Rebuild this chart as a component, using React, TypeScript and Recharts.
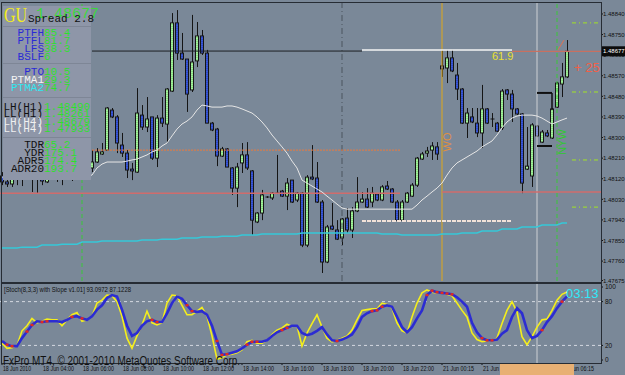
import React from "react";
import { ComposedChart, Bar, Line, XAxis, YAxis, ReferenceLine } from "recharts";

// GBPUSD M15, 18-21 Jun 2010 (index = candle number)
const openP = [
  1.48132, 1.48106, 1.48097, 1.48123, 1.4814, 1.4818, 1.48193, 1.48219, 1.48167, 1.48106,
  1.48167, 1.48193, 1.48158, 1.48189, 1.48224, 1.4821, 1.48237, 1.4818, 1.48167, 1.48193,
  1.48228, 1.48245, 1.4842, 1.4839, 1.48267, 1.48232, 1.48162, 1.48149, 1.48398, 1.48346,
  1.4839, 1.4821, 1.48385, 1.48359, 1.48503, 1.48801, 1.48669, 1.48643, 1.48508, 1.48635,
  1.48744, 1.48669, 1.48363, 1.48337, 1.48219, 1.4825, 1.48167, 1.48079, 1.48189, 1.48224,
  1.48154, 1.47931, 1.4797, 1.4804, 1.48036, 1.48057, 1.48066, 1.48044, 1.48114, 1.48027,
  1.48057, 1.4783, 1.48127, 1.48123, 1.48018, 1.47756, 1.47913, 1.47896, 1.47861, 1.47948,
  1.47896, 1.47979, 1.48018, 1.48031, 1.48018, 1.48053, 1.48027, 1.48088, 1.48075, 1.48018,
  1.47939, 1.48018, 1.48044, 1.48092, 1.48206, 1.48232, 1.48245, 1.48259, 1.48613, 1.48604,
  1.48648, 1.48573, 1.48512, 1.48363, 1.4839, 1.48363, 1.4832, 1.48425, 1.48381, 1.48363,
  1.48342, 1.48508, 1.4849, 1.48425, 1.48403, 1.48162, 1.48132, 1.4835, 1.4828, 1.4832,
  1.48298, 1.48433, 1.48534, 1.48565,
];
const highP = [
  1.48149, 1.48123, 1.48132, 1.48149, 1.48193, 1.4821, 1.48245, 1.48245, 1.48202, 1.4818,
  1.4821, 1.48202, 1.48202, 1.48245, 1.48254, 1.48245, 1.48245, 1.4821, 1.48245, 1.48254,
  1.48276, 1.48433, 1.48429, 1.48398, 1.4832, 1.48245, 1.48189, 1.48516, 1.48442, 1.48477,
  1.4839, 1.48398, 1.48477, 1.48516, 1.48844, 1.48857, 1.48757, 1.48643, 1.48836, 1.48805,
  1.4877, 1.48683, 1.48368, 1.48342, 1.48259, 1.48254, 1.48171, 1.48189, 1.48276, 1.4828,
  1.48158, 1.47974, 1.48071, 1.48044, 1.48062, 1.48224, 1.48071, 1.48123, 1.48114, 1.48062,
  1.48062, 1.48136, 1.48267, 1.48193, 1.48027, 1.47918, 1.48014, 1.47939, 1.47948, 1.47992,
  1.47996, 1.48127, 1.48062, 1.48079, 1.48084, 1.48057, 1.48092, 1.4811, 1.48079, 1.48027,
  1.48027, 1.48062, 1.48101, 1.48215, 1.48237, 1.48259, 1.4828, 1.4828, 1.48683, 1.48683,
  1.48683, 1.48626, 1.48516, 1.48429, 1.48429, 1.48429, 1.4853, 1.48429, 1.48407, 1.48368,
  1.48512, 1.48512, 1.48508, 1.48429, 1.48407, 1.48346, 1.48363, 1.48355, 1.48333, 1.48333,
  1.48429, 1.48543, 1.48626, 1.48726,
];
const lowP = [
  1.48092, 1.48084, 1.48084, 1.48092, 1.48088, 1.48158, 1.48062, 1.48057, 1.48092, 1.48101,
  1.48136, 1.48106, 1.48092, 1.48158, 1.4811, 1.4818, 1.48149, 1.48149, 1.48149, 1.48189,
  1.48224, 1.48245, 1.48385, 1.48232, 1.48215, 1.48123, 1.48114, 1.48145, 1.48333, 1.48324,
  1.48202, 1.48171, 1.48346, 1.48276, 1.48499, 1.48639, 1.48639, 1.48412, 1.48499, 1.48608,
  1.48661, 1.48363, 1.48328, 1.48175, 1.48215, 1.48171, 1.48049, 1.47996, 1.48145, 1.48158,
  1.47874, 1.47926, 1.47939, 1.48036, 1.48027, 1.48053, 1.4804, 1.47983, 1.48014, 1.48018,
  1.47821, 1.47821, 1.48114, 1.48014, 1.47708, 1.47751, 1.47896, 1.47852, 1.4783, 1.47883,
  1.47861, 1.47974, 1.48014, 1.47992, 1.47996, 1.48022, 1.48022, 1.48071, 1.48014, 1.47935,
  1.47935, 1.48014, 1.4804, 1.48084, 1.48202, 1.48215, 1.48202, 1.48202, 1.48565, 1.48538,
  1.48586, 1.48464, 1.48359, 1.48298, 1.48363, 1.48302, 1.48254, 1.48359, 1.48346, 1.48324,
  1.48333, 1.48464, 1.48368, 1.48398, 1.48057, 1.48158, 1.48084, 1.48302, 1.48276, 1.48302,
  1.48294, 1.48429, 1.48477, 1.4856,
];
const closeP = [
  1.48106, 1.48097, 1.48123, 1.4814, 1.4818, 1.48193, 1.48219, 1.48202, 1.4811, 1.48167,
  1.48193, 1.48158, 1.48189, 1.48224, 1.4821, 1.48237, 1.4818, 1.48189, 1.48193, 1.48237,
  1.48237, 1.48429, 1.4839, 1.48276, 1.48232, 1.48158, 1.48154, 1.48407, 1.48346, 1.48381,
  1.4821, 1.48385, 1.48363, 1.48512, 1.48801, 1.48669, 1.48643, 1.4849, 1.4863, 1.48744,
  1.48669, 1.48363, 1.48333, 1.48219, 1.4825, 1.48171, 1.48079, 1.48171, 1.48224, 1.48167,
  1.47939, 1.4797, 1.48049, 1.4804, 1.48057, 1.48057, 1.48044, 1.48101, 1.48018, 1.48057,
  1.4783, 1.48127, 1.48119, 1.48018, 1.47756, 1.47909, 1.479, 1.47856, 1.47944, 1.47896,
  1.47979, 1.48018, 1.48031, 1.47996, 1.48057, 1.48027, 1.48084, 1.48075, 1.48018, 1.47939,
  1.48018, 1.48057, 1.48092, 1.4821, 1.48228, 1.48241, 1.48263, 1.48228, 1.486, 1.48648,
  1.48591, 1.48512, 1.48363, 1.48407, 1.48368, 1.4832, 1.48425, 1.48363, 1.48381, 1.48328,
  1.48503, 1.4849, 1.48425, 1.48403, 1.48101, 1.48175, 1.48355, 1.48307, 1.48324, 1.48307,
  1.48425, 1.48538, 1.48565, 1.48677,
];

// moving averages (white = fast, cyan = slow, stepped from H1)
const maFast = [
  1.48127, 1.48127, 1.48127, 1.48127, 1.48127, 1.48127,
  1.48132, 1.48132, 1.48132, 1.48132, 1.48132, 1.48132, 1.48132, 1.48132, 1.48132, 1.48132, 1.48132, 1.48132,
  1.48136, 1.48167, 1.48184, 1.48193, 1.48193, 1.48193, 1.48193, 1.48197, 1.48202, 1.48206,
  1.48215, 1.48224, 1.48237, 1.48245, 1.48263, 1.48276, 1.48307, 1.48337, 1.48359, 1.48372,
  1.4839, 1.4842, 1.48442, 1.48438, 1.48433, 1.48433, 1.48433, 1.48438, 1.48438, 1.48433,
  1.48425, 1.48416, 1.48407, 1.4839, 1.48368, 1.48342, 1.48311, 1.48285, 1.48259, 1.48232,
  1.48197, 1.48167, 1.48114, 1.48101, 1.48088, 1.48075, 1.48062, 1.48044, 1.48027, 1.48009,
  1.47992,
  1.47987, 1.47987, 1.47987, 1.47987, 1.47987, 1.47987, 1.47987, 1.47987, 1.47987, 1.47987, 1.47987, 1.47987, 1.47987, 1.47987,
  1.48005, 1.48027, 1.48044, 1.48062, 1.48079,
  1.48101, 1.48136, 1.48167, 1.48189, 1.48202, 1.48215, 1.48228, 1.48241, 1.48259, 1.48272,
  1.48285, 1.48311, 1.48342, 1.48368, 1.48385, 1.48394, 1.48398, 1.48398, 1.48398, 1.48394,
  1.48385, 1.48372, 1.48359, 1.48368, 1.48377, 1.48385,
];
const maSlow = [
  1.47817, 1.47817, 1.47817, 1.47817, 1.47821, 1.47821, 1.47821, 1.47821,
  1.4783, 1.4783, 1.4783, 1.4783, 1.47834, 1.47834, 1.47834, 1.47834,
  1.47843, 1.47843, 1.47843, 1.47843, 1.47848, 1.47848, 1.47848, 1.47848,
  1.47848, 1.47848, 1.47848, 1.47848, 1.47852, 1.47852, 1.47852, 1.47852,
  1.47856, 1.47856, 1.47856, 1.47856, 1.47861, 1.47861, 1.47861, 1.47861,
  1.47865, 1.47865, 1.47865, 1.47865, 1.47869, 1.47869, 1.47869, 1.47869,
  1.47874, 1.47874, 1.47874, 1.47874, 1.47878, 1.47878, 1.47878, 1.47878,
  1.47878, 1.47878, 1.47878, 1.47878, 1.47883, 1.47883, 1.47883, 1.47883,
  1.47883, 1.47883, 1.47883, 1.47883, 1.47883, 1.47883, 1.47883, 1.47883,
  1.47883, 1.47883, 1.47883, 1.47883, 1.47878, 1.47878, 1.47878, 1.47878,
  1.47874, 1.47874, 1.47874, 1.47874, 1.47874, 1.47874, 1.47874, 1.47874,
  1.47878, 1.47878, 1.47878, 1.47878, 1.47883, 1.47883, 1.47883, 1.47883,
  1.47891, 1.47891, 1.47891, 1.47891, 1.479, 1.479, 1.479, 1.479,
  1.47909, 1.47909, 1.47909, 1.47909, 1.47918, 1.47918, 1.47918, 1.47918,
  1.47926, 1.47926,
];

// Stoch(8,3,3)
const stochK = [
  23, 16, 17, 20, 40, 47, 57, 51, 53, 56, 55, 55, 47, 55, 62, 65, 53, 55, 60, 78,
  82, 89, 88, 80, 60, 30, 16, 33, 48, 67, 51, 48, 51, 78, 89, 88, 75, 62, 62, 67,
  72, 60, 33, 1, 3, 7, 8, 10, 14, 25, 27, 23, 23, 27, 35, 41, 44, 49, 46, 47,
  19, 37, 50, 62, 45, 30, 25, 27, 30, 33, 41, 55, 68, 69, 70, 70, 78, 76, 71, 51,
  40, 37, 59, 78, 92, 96, 93, 92, 92, 90, 88, 78, 68, 59, 37, 28, 25, 26, 27, 30,
  50, 68, 80, 66, 32, 21, 32, 45, 55, 56, 68, 82, 90, 93.0972,
];
const stochD = [
  26, 21, 19, 19, 30, 39, 48, 53, 52, 53, 53, 53, 52, 55, 59, 60, 57, 55, 60, 69,
  75, 85, 89, 87, 69, 47, 33, 37, 47, 53, 55, 52, 52, 64, 78, 87, 84, 75, 67, 66,
  67, 62, 47, 26, 7, 8, 10, 12, 16, 21, 25, 25, 25, 27, 33, 38, 41, 44, 47, 47,
  37, 34, 36, 40, 45, 35, 27, 26, 28, 31, 35, 45, 59, 64, 67, 68, 73, 75, 73, 59,
  45, 38, 45, 57, 68, 89, 95, 93, 92, 91, 90, 86, 80, 73, 51, 38, 30, 27, 27, 28,
  36, 41, 59, 71, 64, 41, 30, 33, 41, 52, 60, 71, 80, 87.1228,
];
const slopeRedIdx = [1, 2, 5, 6, 8, 9, 14, 16, 30, 31, 37, 38, 43, 44, 45, 49, 50, 51, 56, 57, 67, 74, 75, 76, 85, 86, 87, 88, 89, 90, 96, 97, 98, 108, 112];

const timeTicks = [0, 8, 16, 24, 32, 40, 48, 56, 64, 72, 80, 88, 96, 104, 112];
const timeLabels = [
  "18 Jun 2010", "18 Jun 04:00", "18 Jun 06:00", "18 Jun 08:00", "18 Jun 10:00",
  "18 Jun 12:00", "18 Jun 14:00", "18 Jun 16:00", "18 Jun 18:00", "18 Jun 20:00",
  "18 Jun 22:00", "21 Jun 00:15", "21 Jun 02:15", "21 Jun 04:15", "21 Jun 06:15",
];
const priceTicks = [1.47675, 1.4776, 1.4785, 1.4794, 1.4803, 1.4812, 1.4821, 1.483, 1.4839, 1.4848, 1.4857, 1.4866, 1.4875, 1.4884];
const stochTicks = [0, 20, 80, 100];

// drawn levels
const lastPrice = 1.48677;
const highLevel = 1.48683;
const blackLevel = 1.48678;
const orangeLevel = 1.48245;
const redLevelLeft = 1.48057;
const redLevelRight = 1.48062;
const rangeLowLevel = 1.47935;
const targetLevels = [1.48801, 1.48499, 1.48202, 1.47996];
const bracketTop = [1.48495, 1.4842];
const bracketLow = 1.48263;

const panelRows1 = [["PTFH", "85.4"], ["PTFL", "81.7"], ["LFS", "38.3"], ["BSLF", "6"]];
const panelRows2 = [["PTO", "10.5"], ["PTMA1", "29.3"], ["PTMA2", "74.7"]];
const panelRows3 = [["LH(H1)", "1.48490"], ["LL(H1)", "1.48261"], ["LH(H4)", "1.48679"], ["LL(H4)", "1.47933"]];
const panelRows4 = [["TDR", "65.2"], ["YDR", "175.1"], ["ADR5", "174.4"], ["ADR20", "193.7"]];

const rows = openP.map((o, i) => ({
  i,
  open: o,
  high: highP[i],
  low: lowP[i],
  close: closeP[i],
  range: [lowP[i], highP[i]],
  ma1: maFast[i],
  ma2: maSlow[i],
}));

const stochRows = stochK.map((k, i) => ({
  i,
  k,
  d: stochD[i],
  red: slopeRedIdx.includes(i) ? stochD[i] : null,
}));

const BG = "#7a8898";
const XDOM: [number, number] = [-0.4, 119.8];

const Candle = (props: any) => {
  const { x, y, width, height, payload } = props;
  const top = Math.min(y, y + height);
  const bot = Math.max(y, y + height);
  const span = payload.high - payload.low;
  const py = (p: number) => (span > 0 ? top + ((payload.high - p) / span) * (bot - top) : top);
  const cx = Math.round(x + width / 2) + 0.5;
  const oy = py(payload.open);
  const cy = py(payload.close);
  const bull = payload.close > payload.open;
  const bear = payload.close < payload.open;
  const bTop = Math.min(oy, cy);
  const bH = Math.max(1, Math.abs(cy - oy));
  return (
    <g>
      <line x1={cx} x2={cx} y1={top} y2={bot} stroke="#151515" strokeWidth={1} />
      {bull || bear ? (
        <g>
          <rect x={cx - 2} y={bTop} width={3} height={bH} fill={bull ? "#a6f29e" : "#3a5ad8"} stroke="#151515" strokeWidth={1} />
          {bH > 3 && (
            <line x1={cx - 0.5} x2={cx - 0.5} y1={bTop + 1} y2={bTop + bH - 1} stroke={bull ? "#6cc468" : "#2438a8"} strokeDasharray="1 1" />
          )}
        </g>
      ) : (
        <line x1={cx - 2} x2={cx + 2} y1={oy} y2={oy} stroke="#151515" />
      )}
    </g>
  );
};

const PriceTick = (props: any) => {
  const { y, payload } = props;
  const v = payload.value;
  const tx = 603;
  if (v === lastPrice) {
    return (
      <g>
        <rect x={601} y={y - 5} width={24} height={10} fill="#0c0c0c" />
        <text x={tx} y={y + 2.2} fontSize={6} fontFamily="Arial" fill="#ffffff">
          {v.toFixed(5)}
        </text>
      </g>
    );
  }
  return (
    <text x={tx} y={y + 2.2} fontSize={6} fontFamily="Arial" fill="#111">
      {v.toFixed(5)}
    </text>
  );
};

const StochTick = (props: any) => {
  const { y, payload } = props;
  return (
    <text x={605} y={y + 2.2} fontSize={6.5} fontFamily="Arial" fill="#111">
      {payload.value}
    </text>
  );
};

const TimeTick = (props: any) => {
  const { x, y, payload } = props;
  const idx = timeTicks.indexOf(payload.value);
  return (
    <text x={x + 1} y={y + 6} fontSize={7} fontFamily="Arial" fill="#111" textLength={idx === 0 ? 28 : 31} lengthAdjust="spacingAndGlyphs">
      {timeLabels[idx]}
    </text>
  );
};

const RedDot = (p: any) => {
  if (p.payload == null || p.payload.red == null || p.cy == null) return <g key={`rd${p.index}`} />;
  return <rect key={`rd${p.index}`} x={p.cx - 1.5} y={p.cy - 1.2} width={3} height={2.4} fill="#e62a1c" />;
};

const mono = "'Liberation Mono', 'DejaVu Sans Mono', monospace";

export default function App() {
  return (
    <div style={{ position: "absolute", left: 0, top: 0, width: 625, height: 375, background: BG, overflow: "hidden" }}>
      {/* main price window */}
      <div style={{ position: "absolute", left: 0, top: 0 }}>
        <ComposedChart width={625} height={283} data={rows} margin={{ top: 3, right: 0, bottom: 2, left: 0 }}>
          <XAxis dataKey="i" type="number" domain={XDOM} hide allowDataOverflow />
          <YAxis
            orientation="right"
            width={24}
            domain={[1.47673, 1.48888]}
            allowDataOverflow
            ticks={[...priceTicks, lastPrice]}
            interval={0}
            tick={<PriceTick />}
            tickSize={2}
            tickMargin={0}
            axisLine={false}
            tickLine={{ stroke: "#111" }}
          />
          <ReferenceLine x={16} stroke="#38c838" strokeDasharray="4 3" />
          <ReferenceLine x={68} stroke="#4a545e" strokeDasharray="6 3 1 3" />
          <ReferenceLine x={88} stroke="#e0a818" />
          <ReferenceLine x={107} stroke="#cdd0d4" />
          <ReferenceLine x={111} stroke="#38c838" strokeDasharray="4 3" />
          <ReferenceLine segment={[{ x: 18, y: blackLevel }, { x: 72, y: blackLevel }]} stroke="#1c2024" />
          <ReferenceLine segment={[{ x: 72, y: highLevel }, { x: 102, y: highLevel }]} stroke="#f4f4f4" strokeWidth={1.5} />
          <ReferenceLine segment={[{ x: 102, y: lastPrice }, { x: 119.8, y: lastPrice }]} stroke="#c87060" strokeWidth={1.2} />
          <ReferenceLine segment={[{ x: 111.2, y: 1.48683 }, { x: 112.4, y: 1.48726 }]} stroke="#e07050" />
          <ReferenceLine segment={[{ x: 18, y: orangeLevel }, { x: 79.6, y: orangeLevel }]} stroke="#ec7a3c" strokeDasharray="2 1" />
          <ReferenceLine segment={[{ x: -0.4, y: redLevelLeft }, { x: 79.6, y: redLevelLeft }]} stroke="#d06c6c" strokeWidth={1.5} />
          <ReferenceLine segment={[{ x: 88, y: redLevelRight }, { x: 119.8, y: redLevelRight }]} stroke="#d06c6c" strokeWidth={1.5} />
          <ReferenceLine segment={[{ x: 72, y: rangeLowLevel }, { x: 102, y: rangeLowLevel }]} stroke="#f2e2d8" strokeWidth={2} strokeDasharray="4 1" />
          {targetLevels.map((lv) => (
            <ReferenceLine key={lv} segment={[{ x: 114, y: lv }, { x: 119.4, y: lv }]} stroke="#a2e424" strokeDasharray="4 3 1 3" />
          ))}
          <ReferenceLine segment={[{ x: 107, y: bracketTop[0] }, { x: 110, y: bracketTop[0] }]} stroke="#101010" strokeWidth={2} />
          <ReferenceLine segment={[{ x: 110, y: bracketTop[0] }, { x: 110, y: bracketTop[1] }]} stroke="#101010" strokeWidth={1.5} />
          <ReferenceLine segment={[{ x: 107, y: bracketLow }, { x: 110, y: bracketLow }]} stroke="#101010" strokeWidth={2} />
          <Line dataKey="ma2" type="linear" stroke="#36c8d8" strokeWidth={1.5} dot={false} activeDot={false} isAnimationActive={false} />
          <Line dataKey="ma1" type="linear" stroke="#e6e6e6" strokeWidth={1} dot={false} activeDot={false} isAnimationActive={false} />
          <Bar dataKey="range" barSize={4} shape={<Candle />} isAnimationActive={false} />
        </ComposedChart>
      </div>

      {/* stochastic window */}
      <div style={{ position: "absolute", left: 0, top: 283 }}>
        <ComposedChart width={625} height={92} data={stochRows} margin={{ top: 0, right: 0, bottom: 0, left: 0 }}>
          <XAxis
            dataKey="i"
            type="number"
            domain={XDOM}
            allowDataOverflow
            ticks={timeTicks}
            interval={0}
            height={12}
            tick={<TimeTick />}
            tickSize={2}
            tickMargin={0}
            axisLine={false}
            tickLine={{ stroke: "#111" }}
          />
          <YAxis
            orientation="right"
            width={24}
            domain={[-4.1, 105.5]}
            allowDataOverflow
            ticks={stochTicks}
            interval={0}
            tick={<StochTick />}
            tickSize={2}
            tickMargin={0}
            axisLine={false}
            tickLine={{ stroke: "#111" }}
          />
          <ReferenceLine y={80} stroke="#d4d8e0" strokeDasharray="3 3" />
          <ReferenceLine y={20} stroke="#d4d8e0" strokeDasharray="3 3" />
          <ReferenceLine x={107} stroke="#cdd0d4" />
          <Line dataKey="k" type="linear" stroke="#f4ee1c" strokeWidth={1.6} dot={false} activeDot={false} isAnimationActive={false} />
          <Line dataKey="d" type="linear" stroke="#2c2cd2" strokeWidth={2.6} dot={false} activeDot={false} isAnimationActive={false} />
          <Line dataKey="red" type="linear" stroke="none" dot={RedDot} activeDot={false} isAnimationActive={false} />
        </ComposedChart>
      </div>

      {/* overlays: frames, info panel, labels */}
      <svg width={625} height={375} style={{ position: "absolute", left: 0, top: 0, pointerEvents: "none" }}>
        <rect x={1.5} y={2.5} width={600} height={280} fill="none" stroke="#262c34" />
        <rect x={1.5} y={283.5} width={600} height={80} fill="none" stroke="#262c34" />

        <rect x={3} y={6} width={88} height={174} fill="#8e96a8" />
        {[26.5, 63.5, 97.5, 137.5].map((yy) => (
          <line key={yy} x1={3} x2={91} y1={yy} y2={yy} stroke="#7e8696" />
        ))}

        <text x={36} y={18} fontFamily={mono} fontSize={15} fill="#3cd83c">1.48677</text>
        <text x={4} y={22} fontFamily="'Liberation Serif', serif" fontSize={21} fill="#f2ec1c" textLength={23} lengthAdjust="spacingAndGlyphs">GU</text>
        <text x={28} y={22} fontFamily={mono} fontSize={11} fill="#111">Spread 2.8</text>

        {panelRows1.map((r, n) => (
          <g key={r[0]}>
            <text x={44} y={36 + n * 8} textAnchor="end" fontFamily={mono} fontSize={11} fill="#2a2ad6">{r[0]}</text>
            <text x={44} y={36 + n * 8} fontFamily={mono} fontSize={11} fill="#2ee02e">{r[1]}</text>
          </g>
        ))}
        {panelRows2.map((r, n) => (
          <g key={r[0]}>
            <text x={44} y={75 + n * 8} textAnchor="end" fontFamily={mono} fontSize={11} fill={n === 0 ? "#2a2ad6" : n === 1 ? "#f4f4f4" : "#2ee8f0"}>{r[0]}</text>
            <text x={44} y={75 + n * 8} fontFamily={mono} fontSize={11} fill="#2ee02e">{r[1]}</text>
          </g>
        ))}
        {panelRows3.map((r, n) => (
          <g key={r[0]}>
            <text x={43} y={110 + n * 7.4} textAnchor="end" fontFamily={mono} fontSize={11} fill={n < 2 ? "#111" : "#f0f0f0"}>{r[0]}</text>
            <text x={44} y={110 + n * 7.4} fontFamily={mono} fontSize={11} fill="#2ee02e">{r[1]}</text>
          </g>
        ))}
        {panelRows4.map((r, n) => (
          <g key={r[0]}>
            <text x={44} y={148 + n * 7.9} textAnchor="end" fontFamily={mono} fontSize={11} fill="#111">{r[0]}</text>
            <text x={44} y={148 + n * 7.9} fontFamily={mono} fontSize={11} fill="#2ee02e">{r[1]}</text>
          </g>
        ))}

        <text x={492} y={60} fontFamily="Arial" fontSize={11} fill="#e8e030">61.9</text>
        <text x={574} y={72} fontFamily="Arial" fontSize={13} fill="#f06048">+ 25</text>
        <text x={451} y={142} fontFamily="Arial" fontSize={11} fill="#e09040" textAnchor="middle" transform="rotate(-90 451 142)">WO</text>
        <text x={566} y={142} fontFamily="Arial" fontSize={11} fill="#30c830" textAnchor="middle" transform="rotate(-90 566 142)">NYW</text>

        <text x={4} y={292} fontFamily="Arial" fontSize={7} fill="#111" textLength={127} lengthAdjust="spacingAndGlyphs">
          [Stoch(8,3,3) with Slope v1.01] 93.0972 87.1228
        </text>
        <text x={566} y={298} fontFamily="Arial" fontSize={13} fill="#30e8f8">03:13</text>
        <text x={3} y={365} fontFamily="Arial" fontSize={12} fill="#111" textLength={237} lengthAdjust="spacingAndGlyphs">
          FxPro MT4, © 2001-2010 MetaQuotes Software Corp.
        </text>

        <rect x={500} y={364} width={74} height={11} fill="#e8b074" />
      </svg>
    </div>
  );
}
